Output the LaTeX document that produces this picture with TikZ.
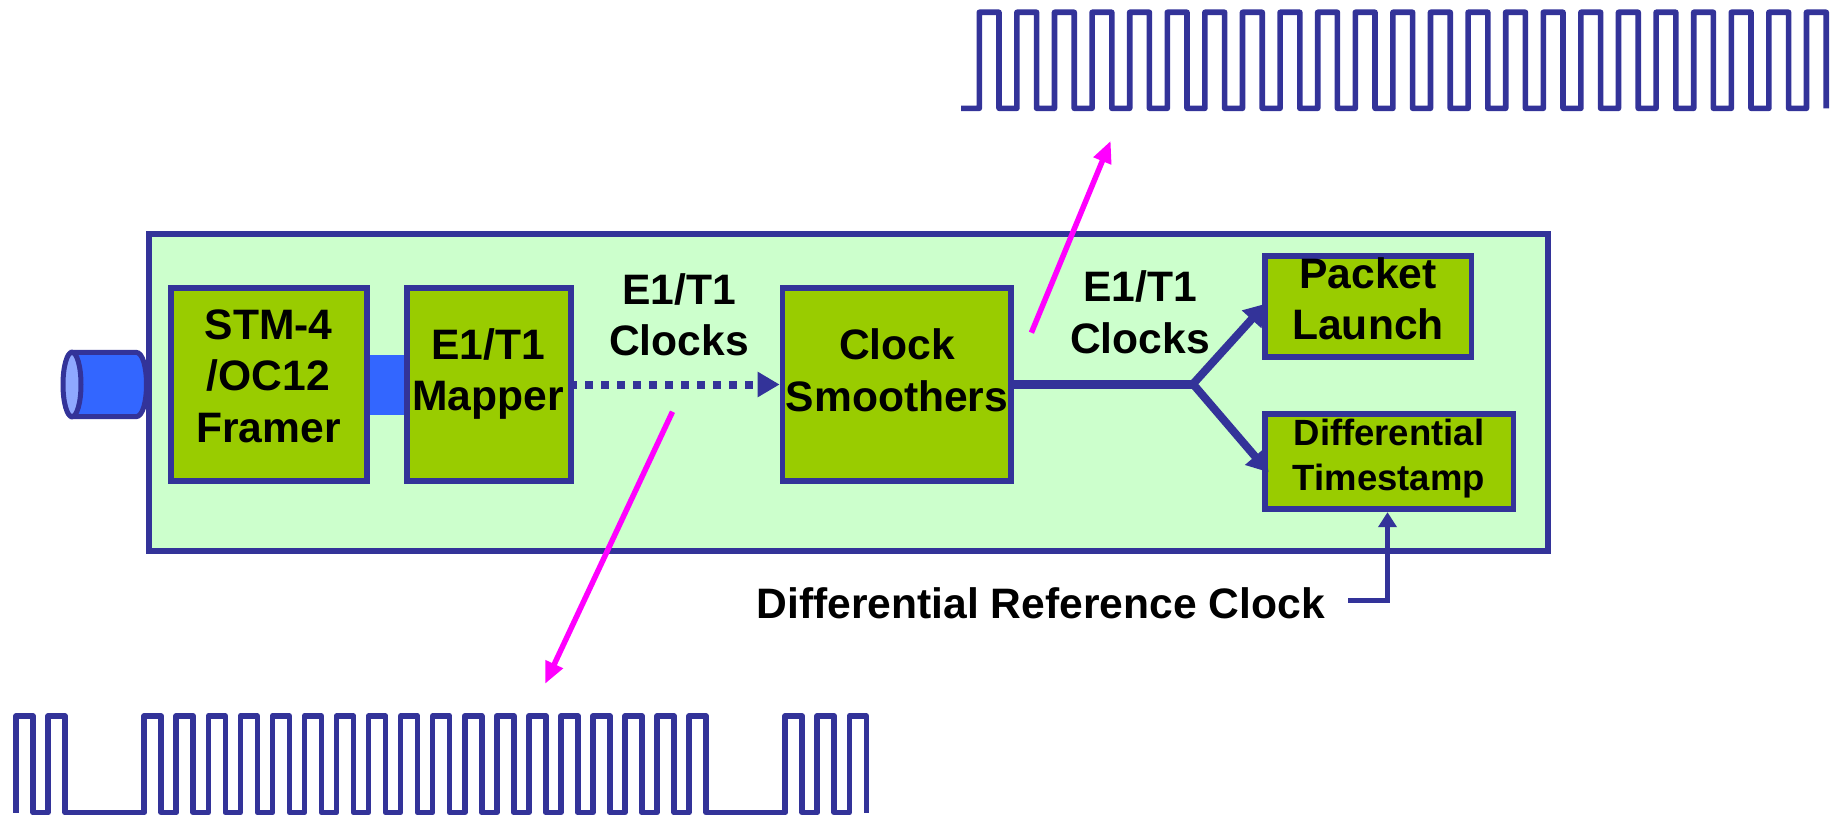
\documentclass[tikz,border=0pt]{standalone}
\usepackage{fontspec}
\setmainfont{Liberation Sans}
\usetikzlibrary{arrows.meta}
\definecolor{navy}{HTML}{333399}
\definecolor{boxgreen}{HTML}{99CC00}
\definecolor{palegreen}{HTML}{CCFFCC}
\definecolor{cablue}{HTML}{3366FF}
\definecolor{calight}{HTML}{8FA8FF}
\definecolor{magen}{HTML}{FF00FF}
\tikzset{
  panel/.style={draw=navy,fill=palegreen,line width=6pt,minimum width=1398.2pt,minimum height=317pt,inner sep=0pt},
  unit/.style={draw=navy,fill=boxgreen,line width=5.7pt,minimum height=192.4pt,inner sep=0pt},
  lab/.style={font=\fontsize{42.6}{51.5}\selectfont\bfseries,align=center,inner sep=0pt},
  smalllab/.style={font=\fontsize{36.5}{45.5}\selectfont\bfseries,align=center,inner sep=0pt},
  wave/.style={draw=navy,line width=5.6pt,line join=round},
  flow/.style={draw=navy,line width=8pt,-{Triangle[length=21pt,width=25pt]},shorten >=-1pt},
  pointer/.style={draw=magen,line width=5.5pt,-{Triangle[length=22pt,width=18pt]}},
}
\begin{document}
\begin{tikzpicture}[x=1pt,y=-1pt]
\useasboundingbox (0,0) rectangle (1834,816);
% cable
\draw[navy,line width=5pt,fill=cablue] (72,352.3) -- (136,352.3) .. controls (150,352.3) and (150,416.7) .. (136,416.7) -- (72,416.7) -- cycle;
\draw[navy,line width=5pt,fill=calight] (72,384.5) ellipse [x radius=9,y radius=32.2];
\node[panel] (main) at (848.4,392.5) {};
% framer-mapper link
\fill[cablue] (360,355) rectangle (412,415);
\node[unit,minimum width=196.3pt] (framer) at (268.85,384.5) {};
\node[unit,minimum width=164.2pt] (mapper) at (488.9,384.5) {};
\node[unit,minimum width=228.2pt] (smooth) at (896.6,384.5) {};
\node[unit,minimum width=206.4pt,minimum height=101.6pt] (packet) at (1368.2,306.5) {};
\node[unit,minimum width=248.6pt,minimum height=95.3pt] (diff) at (1389.3,461.65) {};
% labels
\node[lab] (tframer) at (268.5,376) {STM-4\\/OC12\\Framer};
\node[lab] (tmapper) at (488,374) {E1/T1\\Mapper};
\node[lab] (tsmooth) at (897,370.5) {Clock\\Smoothers};
\node[lab] (tpacket) at (1368,299) {Packet\\Launch};
\node[smalllab] (tdiff) at (1389,458.5) {Differential\\Timestamp};
\node[lab] (tclockA) at (679,315) {E1/T1\\Clocks};
\node[lab] (tclockB) at (1140,312.5) {E1/T1\\Clocks};
\node[lab,anchor=east] (tref) at (1325,603.5) {Differential Reference Clock};
% connectors
\draw[navy,line width=8pt,dash pattern=on 8pt off 8pt,dash phase=4.75pt,-{Triangle[length=22pt,width=24pt]}] (mapper.east) -- (smooth.west);
\coordinate (branch) at (1193,384);
\coordinate (pk) at (1265,304.5);
\coordinate (df) at (1268,471.5);
\draw[navy,line width=9pt] (smooth.east |- branch) -- (branch);
\draw[flow] (branch) -- (pk);
\draw[flow] (branch) -- (df);
\coordinate (refstart) at (1348,600.7);
\coordinate (refcorner) at (1387.5,600.7);
\draw[navy,line width=5pt,-{Triangle[length=15pt,width=18pt]}] (refstart) -- (refcorner) -- (refcorner |- diff.south);
% pointers
\coordinate (pa) at (1031.4,332.7);
\coordinate (pb) at (1110.7,140.7);
\coordinate (pc) at (672.5,411.7);
\coordinate (pd) at (545,684);
\draw[pointer] (pa) -- (pb);
\draw[pointer] (pc) -- (pd);
% top waveform
\draw[wave] (961,108.3) -- (979.3,108.3)
  foreach \k in {0,...,22} { -- ({979.3+37.6*\k},12.3) -- ({999+37.6*\k},12.3) -- ({999+37.6*\k},108.3) \ifnum\k<22 -- ({1016.9+37.6*\k},108.3)\fi };
% bottom waveform
\draw[wave] (16,812.5)
  foreach \k in {0,1,4,5,6,7,8,9,10,11,12,13,14,15,16,17,18,19,20,21,24,25,26} { -- ({16+32.05*\k},812.5) -- ({16+32.05*\k},716) -- ({33+32.05*\k},716) -- ({33+32.05*\k},812.5) };
\end{tikzpicture}
\end{document}
